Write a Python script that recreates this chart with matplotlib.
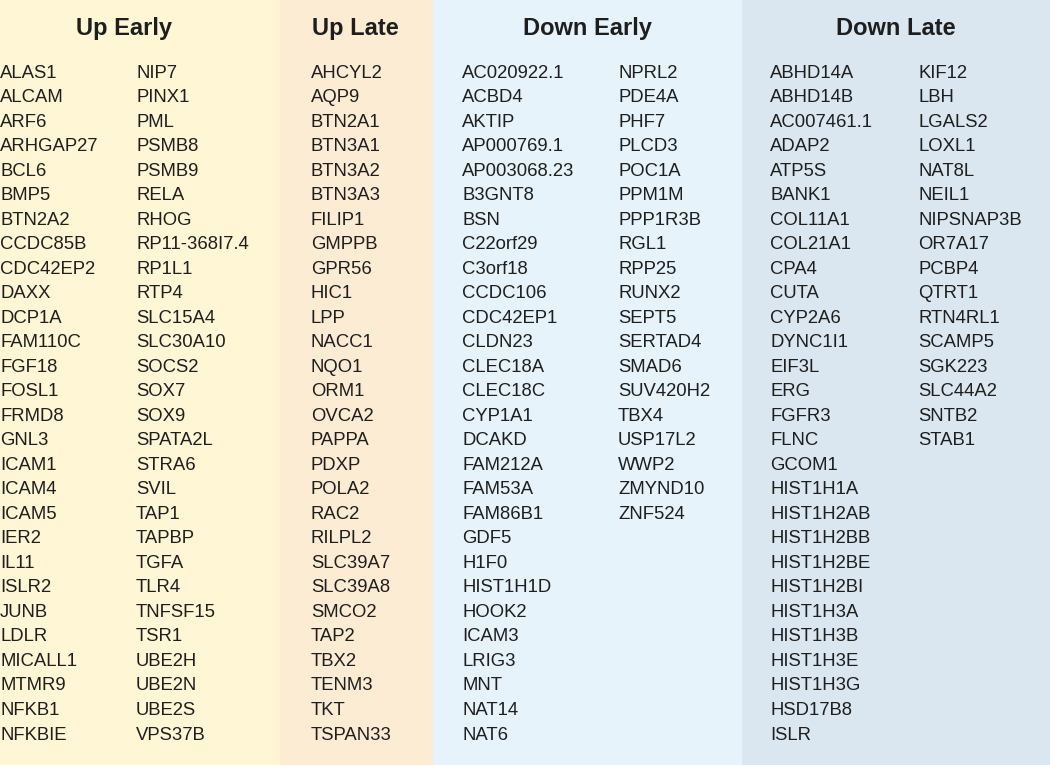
import matplotlib
matplotlib.use("Agg")
import matplotlib.pyplot as plt

# gene lists per group
up_early = ["ALAS1", "ALCAM", "ARF6", "ARHGAP27", "BCL6", "BMP5", "BTN2A2", "CCDC85B",
            "CDC42EP2", "DAXX", "DCP1A", "FAM110C", "FGF18", "FOSL1", "FRMD8", "GNL3",
            "ICAM1", "ICAM4", "ICAM5", "IER2", "IL11", "ISLR2", "JUNB", "LDLR",
            "MICALL1", "MTMR9", "NFKB1", "NFKBIE",
            "NIP7", "PINX1", "PML", "PSMB8", "PSMB9", "RELA", "RHOG", "RP11-368I7.4",
            "RP1L1", "RTP4", "SLC15A4", "SLC30A10", "SOCS2", "SOX7", "SOX9", "SPATA2L",
            "STRA6", "SVIL", "TAP1", "TAPBP", "TGFA", "TLR4", "TNFSF15", "TSR1",
            "UBE2H", "UBE2N", "UBE2S", "VPS37B"]
up_late = ["AHCYL2", "AQP9", "BTN2A1", "BTN3A1", "BTN3A2", "BTN3A3", "FILIP1", "GMPPB",
           "GPR56", "HIC1", "LPP", "NACC1", "NQO1", "ORM1", "OVCA2", "PAPPA", "PDXP",
           "POLA2", "RAC2", "RILPL2", "SLC39A7", "SLC39A8", "SMCO2", "TAP2", "TBX2",
           "TENM3", "TKT", "TSPAN33"]
down_early = ["AC020922.1", "ACBD4", "AKTIP", "AP000769.1", "AP003068.23", "B3GNT8", "BSN",
              "C22orf29", "C3orf18", "CCDC106", "CDC42EP1", "CLDN23", "CLEC18A", "CLEC18C",
              "CYP1A1", "DCAKD", "FAM212A", "FAM53A", "FAM86B1", "GDF5", "H1F0", "HIST1H1D",
              "HOOK2", "ICAM3", "LRIG3", "MNT", "NAT14", "NAT6",
              "NPRL2", "PDE4A", "PHF7", "PLCD3", "POC1A", "PPM1M", "PPP1R3B", "RGL1",
              "RPP25", "RUNX2", "SEPT5", "SERTAD4", "SMAD6", "SUV420H2", "TBX4", "USP17L2",
              "WWP2", "ZMYND10", "ZNF524"]
down_late = ["ABHD14A", "ABHD14B", "AC007461.1", "ADAP2", "ATP5S", "BANK1", "COL11A1",
             "COL21A1", "CPA4", "CUTA", "CYP2A6", "DYNC1I1", "EIF3L", "ERG", "FGFR3", "FLNC",
             "GCOM1", "HIST1H1A", "HIST1H2AB", "HIST1H2BB", "HIST1H2BE", "HIST1H2BI",
             "HIST1H3A", "HIST1H3B", "HIST1H3E", "HIST1H3G", "HSD17B8", "ISLR",
             "KIF12", "LBH", "LGALS2", "LOXL1", "NAT8L", "NEIL1", "NIPSNAP3B", "OR7A17",
             "PCBP4", "QTRT1", "RTN4RL1", "SCAMP5", "SGK223", "SLC44A2", "SNTB2", "STAB1"]

titles = ["Up Early", "Up Late", "Down Early", "Down Late"]
groups = [up_early, up_late, down_early, down_late]

# layout (pixel units of the 1050x765 canvas)
panel_edges = [0, 280, 433, 742, 1050]
panel_colors = ["#fef6d4", "#fdecd4", "#e6f3fa", "#dae7f0"]
title_x = [124, 355, 587, 896]
col_x = [[0, 136], [311], [462, 618], [770, 918]]
rows_per_col = 28
row0, row_step = 73, 24.52
title_y = 28
text_color = "#1e1e1e"
fam = "Liberation Sans"

fig = plt.figure(figsize=(10.5, 7.65), dpi=100)
ax = fig.add_axes([0, 0, 1, 1])
ax.set_xlim(0, 1050)
ax.set_ylim(765, 0)
ax.axis("off")

for i in range(4):
    ax.axvspan(panel_edges[i], panel_edges[i + 1], color=panel_colors[i], lw=0)
    ax.text(title_x[i], title_y, titles[i], ha="center", va="center",
            fontsize=17, fontweight="bold", family=fam, color=text_color)
    genes = groups[i]
    for j, g in enumerate(genes):
        c = j // rows_per_col
        r = j % rows_per_col
        ax.text(col_x[i][c], row0 + r * row_step, g, ha="left", va="center",
                fontsize=13.3, family=fam, color=text_color)

fig.savefig("out.png", dpi=100)
